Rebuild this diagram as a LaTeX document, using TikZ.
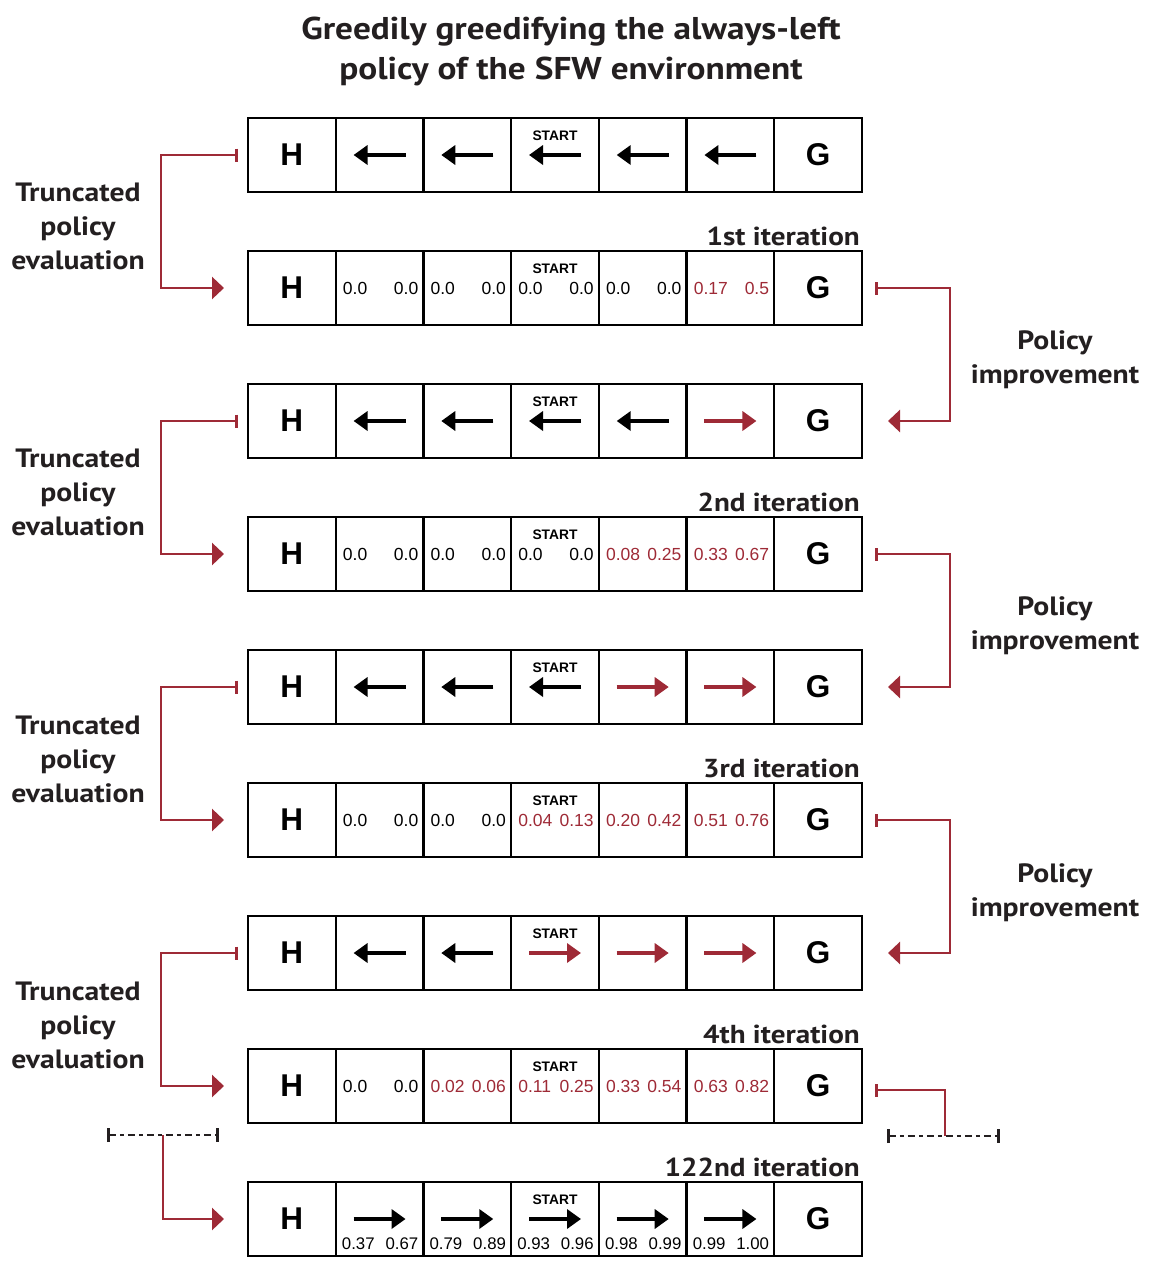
\documentclass[tikz,border=0pt]{standalone}
\usepackage{fontspec}
\setmainfont{Liberation Sans}
\newfontfamily\labfont[FakeStretch=1.12]{PT Sans}
\usetikzlibrary{arrows.meta}
\definecolor{myred}{HTML}{9E2A36}
\definecolor{ink}{HTML}{231F20}
\tikzset{
  cell/.style={draw=black, line width=2.2pt, minimum width=87.714pt, minimum height=74pt, inner sep=0pt, outer sep=0pt},
  hg/.style={font=\fontsize{31.5}{31}\selectfont\bfseries, inner sep=0pt},
  startlbl/.style={font=\fontsize{13.8}{14}\selectfont\bfseries, inner sep=0pt},
  val/.style={font=\fontsize{17.5}{17}\selectfont, inner sep=0pt},
  valb/.style={font=\fontsize{16.8}{17}\selectfont, inner sep=0pt},
  pol/.style={line width=3.6pt, -{Triangle[length=14pt,width=19pt]}},
  conn/.style={draw=myred, line width=2.6pt, {Bar[width=13pt]}-{Triangle[length=12pt,width=22pt]}},
  redline/.style={draw=myred, line width=2.6pt},
  dashline/.style={draw=ink, line width=2.6pt, dash pattern=on 7pt off 4pt on 4pt off 4pt, {Bar[width=14pt]}-{Bar[width=14pt]}},
  lab/.style={font=\labfont\fontsize{26.5}{34}\selectfont\bfseries, text=ink, align=center, inner sep=0pt},
  itlab/.style={font=\labfont\fontsize{26}{26}\selectfont\bfseries, text=ink, inner sep=0pt, anchor=base east},
  ttl/.style={font=\labfont\fontsize{31.5}{31}\selectfont\bfseries, text=ink, inner sep=0pt, anchor=base}
}
\newcommand\mkrow[2]{%
  \foreach \k in {1,...,7}{\node[cell] (#1-\k) at ({248+87.714*(\k-0.5)},#2) {};}
  \node[hg] at (#1-1) {H};
  \node[hg] at (#1-7) {G};
  \node[startlbl] at ([yshift=-18pt]#1-4.north) {START};
}
\newcommand\pl[2]{\draw[pol,draw=#2,fill=#2] ([xshift=26pt]#1.center) -- ([xshift=-26pt]#1.center);}
\newcommand\pr[2]{\draw[pol,draw=#2,fill=#2] ([xshift=-26pt]#1.center) -- ([xshift=26pt]#1.center);}
\newcommand\pv[4]{%
  \node[val,text=#2,anchor=base west] at ([xshift=7pt,yshift=-6pt]#1.west) {#3};
  \node[val,text=#2,anchor=base east] at ([xshift=-5pt,yshift=-6pt]#1.east) {#4};}
\newcommand\pb[3]{%
  \node[valb,anchor=base west] at ([xshift=6pt,yshift=7pt]#1.south west) {#2};
  \node[valb,anchor=base east] at ([xshift=-5pt,yshift=7pt]#1.south east) {#3};}
\begin{document}
\begin{tikzpicture}[x=1pt,y=-1pt]
\useasboundingbox (0,0) rectangle (1159,1269);
% title
\node[ttl] (t1) at (571,39) {Greedily greedifying the always-left};
\node[ttl] (t2) at (571,79) {policy of the SFW environment};
% rows
\mkrow{r1}{155}
\mkrow{r2}{288}
\mkrow{r3}{421}
\mkrow{r4}{554}
\mkrow{r5}{687}
\mkrow{r6}{820}
\mkrow{r7}{953}
\mkrow{r8}{1086}
\mkrow{r9}{1219}
% policies
\pl{r1-2}{black}\pl{r1-3}{black}\pl{r1-4}{black}\pl{r1-5}{black}\pl{r1-6}{black}
\pl{r3-2}{black}\pl{r3-3}{black}\pl{r3-4}{black}\pl{r3-5}{black}\pr{r3-6}{myred}
\pl{r5-2}{black}\pl{r5-3}{black}\pl{r5-4}{black}\pr{r5-5}{myred}\pr{r5-6}{myred}
\pl{r7-2}{black}\pl{r7-3}{black}\pr{r7-4}{myred}\pr{r7-5}{myred}\pr{r7-6}{myred}
\pr{r9-2}{black}\pr{r9-3}{black}\pr{r9-4}{black}\pr{r9-5}{black}\pr{r9-6}{black}
% values
\pv{r2-2}{black}{0.0}{0.0}\pv{r2-3}{black}{0.0}{0.0}\pv{r2-4}{black}{0.0}{0.0}\pv{r2-5}{black}{0.0}{0.0}\pv{r2-6}{myred}{0.17}{0.5}
\pv{r4-2}{black}{0.0}{0.0}\pv{r4-3}{black}{0.0}{0.0}\pv{r4-4}{black}{0.0}{0.0}\pv{r4-5}{myred}{0.08}{0.25}\pv{r4-6}{myred}{0.33}{0.67}
\pv{r6-2}{black}{0.0}{0.0}\pv{r6-3}{black}{0.0}{0.0}\pv{r6-4}{myred}{0.04}{0.13}\pv{r6-5}{myred}{0.20}{0.42}\pv{r6-6}{myred}{0.51}{0.76}
\pv{r8-2}{black}{0.0}{0.0}\pv{r8-3}{myred}{0.02}{0.06}\pv{r8-4}{myred}{0.11}{0.25}\pv{r8-5}{myred}{0.33}{0.54}\pv{r8-6}{myred}{0.63}{0.82}
\pb{r9-2}{0.37}{0.67}\pb{r9-3}{0.79}{0.89}\pb{r9-4}{0.93}{0.96}\pb{r9-5}{0.98}{0.99}\pb{r9-6}{0.99}{1.00}
% iteration labels
\node[itlab] (i1) at ([xshift=-2pt,yshift=6pt]r2-7.north east) {1st iteration};
\node[itlab] (i2) at ([xshift=-2pt,yshift=6pt]r4-7.north east) {2nd iteration};
\node[itlab] (i3) at ([xshift=-2pt,yshift=6pt]r6-7.north east) {3rd iteration};
\node[itlab] (i4) at ([xshift=-2pt,yshift=6pt]r8-7.north east) {4th iteration};
\node[itlab] (i5) at ([xshift=-2pt,yshift=6pt]r9-7.north east) {122nd iteration};
% side labels
\node[lab] (e1) at (78,226) {Truncated\\policy\\evaluation};
\node[lab] (e2) at (78,492) {Truncated\\policy\\evaluation};
\node[lab] (e3) at (78,759) {Truncated\\policy\\evaluation};
\node[lab] (e4) at (78,1025) {Truncated\\policy\\evaluation};
\node[lab] (p1) at (1055,360) {Policy\\improvement};
\node[lab] (p2) at (1055,626) {Policy\\improvement};
\node[lab] (p3) at (1055,893) {Policy\\improvement};
% left connectors
\draw[conn] ([xshift=-10pt]r1-1.west) -- ++(-77,0) |- ([xshift=-24pt]r2-1.west);
\draw[conn] ([xshift=-10pt]r3-1.west) -- ++(-77,0) |- ([xshift=-24pt]r4-1.west);
\draw[conn] ([xshift=-10pt]r5-1.west) -- ++(-77,0) |- ([xshift=-24pt]r6-1.west);
\draw[conn] ([xshift=-10pt]r7-1.west) -- ++(-77,0) |- ([xshift=-24pt]r8-1.west);
% right connectors
\draw[conn] ([xshift=13pt]r2-7.east) -- ++(75,0) |- ([xshift=26pt]r3-7.east);
\draw[conn] ([xshift=13pt]r4-7.east) -- ++(75,0) |- ([xshift=26pt]r5-7.east);
\draw[conn] ([xshift=13pt]r6-7.east) -- ++(75,0) |- ([xshift=26pt]r7-7.east);
% bottom
\coordinate (dl1) at (107,1135);
\coordinate (dl2) at (219,1135);
\coordinate (dlm) at (163,1135);
\coordinate (dr1) at (887,1136);
\coordinate (dr2) at (1000,1136);
\coordinate (drm) at (945,1136);
\draw[redline,-{Triangle[length=12pt,width=22pt]}] (dlm) |- ([xshift=-24pt]r9-1.west);
\draw[redline,{Bar[width=13pt]}-] ([xshift=13pt,yshift=-4pt]r8-7.east) -| (drm);
\draw[dashline] (dl1) -- (dl2);
\draw[dashline] (dr1) -- (dr2);
\end{tikzpicture}
\end{document}
